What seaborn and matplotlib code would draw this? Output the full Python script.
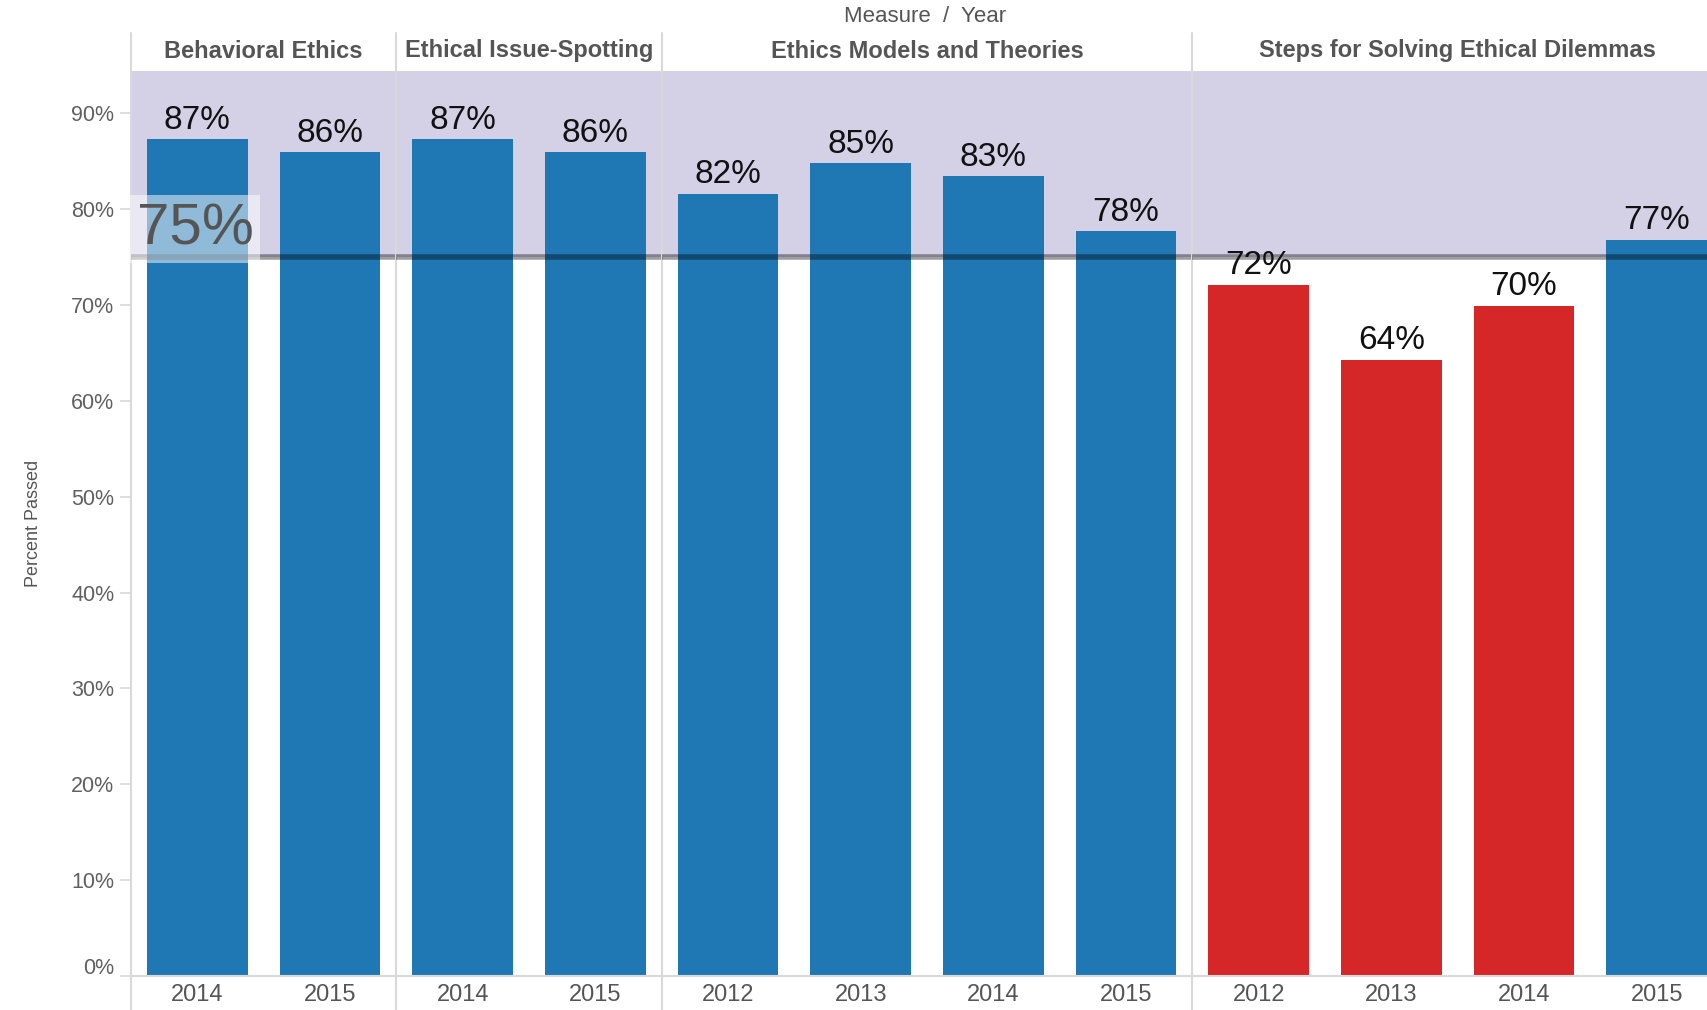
import matplotlib
matplotlib.use("Agg")
import matplotlib.pyplot as plt
import matplotlib.transforms as mtransforms
from matplotlib.lines import Line2D
import seaborn as sns
import pandas as pd

# ---- data ----
measures = ["Behavioral Ethics", "Ethical Issue-Spotting",
            "Ethics Models and Theories", "Steps for Solving Ethical Dilemmas"]
years_be = ["2014", "2015"]
pct_be = [87.3, 85.9]
years_eis = ["2014", "2015"]
pct_eis = [87.3, 85.9]
years_emt = ["2012", "2013", "2014", "2015"]
pct_emt = [81.6, 84.8, 83.4, 77.7]
years_ssed = ["2012", "2013", "2014", "2015"]
pct_ssed = [72.1, 64.3, 69.9, 76.8]
target = 75
y_ticks = [0, 10, 20, 30, 40, 50, 60, 70, 80, 90]
y_max = 94.4

panel_years = [years_be, years_eis, years_emt, years_ssed]
panel_pcts = [pct_be, pct_eis, pct_emt, pct_ssed]

rows = []
for m, ys, ps in zip(measures, panel_years, panel_pcts):
    for y, p in zip(ys, ps):
        rows.append({"Measure": m, "Year": y, "Pct": p,
                     "Status": "Met" if p >= target else "Below"})
df = pd.DataFrame(rows)

palette = {"Met": "#1f77b4", "Below": "#d62728"}
band_color = "#d4d1e7"
grid_gray = "#d9d9d9"
text_gray = "#555555"

sns.set_theme(style="white")
plt.rcParams["font.family"] = ["Liberation Sans", "DejaVu Sans"]

W, H = 1708, 1010
fig = plt.figure(figsize=(W / 100, H / 100), dpi=100)
left = 131 / W
right = 1723 / W
bottom = 1 - 976 / H
top = 1 - 71 / H
gs = fig.add_gridspec(1, 4, width_ratios=[len(y) for y in panel_years],
                      left=left, right=right, bottom=bottom, top=top, wspace=0)
axes = [fig.add_subplot(gs[0, i]) for i in range(4)]

for i, (ax, m, ys) in enumerate(zip(axes, measures, panel_years)):
    sub = df[df["Measure"] == m]
    ax.axhspan(target, y_max, color=band_color, zorder=0, lw=0)
    sns.barplot(data=sub, x="Year", y="Pct", hue="Status", order=ys,
                hue_order=["Met", "Below"], palette=palette, dodge=False,
                width=0.76, saturation=1, legend=False, ax=ax, zorder=2,
                linewidth=0)
    for c in ax.containers:
        ax.bar_label(c, labels=[f"{v:.0f}%" for v in c.datavalues],
                     padding=2.5, fontsize=24, color="#111111", zorder=6)
    ax.axhline(target, color="black", alpha=0.38, lw=4.0, zorder=4)
    ax.set_ylim(0, y_max)
    ax.set_xlim(-0.5, len(ys) - 0.5)
    ax.set_xlabel("")
    ax.set_ylabel("")
    for s in ["top", "right"]:
        ax.spines[s].set_visible(False)
    ax.spines["left"].set_color(grid_gray)
    ax.spines["left"].set_linewidth(1.5)
    ax.spines["bottom"].set_color(grid_gray)
    ax.spines["bottom"].set_linewidth(1.5)
    ax.spines["left"].set_zorder(1)
    ax.tick_params(axis="x", which="major", length=0, pad=6,
                   labelsize=17, labelcolor=text_gray)
    ax.set_xticks([k + 0.5 for k in range(len(ys) - 1)], minor=True)
    ax.tick_params(axis="x", which="minor", length=7, color=grid_gray,
                   width=1.5, direction="out")
    ax.set_yticks(y_ticks)
    if i == 0:
        ax.set_yticklabels([f"{t}%" for t in y_ticks])
        ax.tick_params(axis="y", length=8, color=grid_gray, width=1.2,
                       pad=4, labelsize=15.5, labelcolor="#606060", left=True)
        # lift the 0% label slightly above the axis line
        lbl0 = ax.get_yticklabels()[0]
        lbl0.set_transform(lbl0.get_transform() +
                           mtransforms.ScaledTranslation(0, 10 / 100,
                                                         fig.dpi_scale_trans))
        ax.set_ylabel("Percent Passed", fontsize=13, color=text_gray)
        ax.yaxis.set_label_coords(-0.335, 0.5)
        ax.annotate(f"{target}%", xy=(-0.5, target), xytext=(4, 9),
                    textcoords="offset points", ha="left", va="baseline",
                    fontsize=42, color="#555555", zorder=5,
                    bbox=dict(boxstyle="square,pad=0.12", facecolor="white",
                              alpha=0.5, edgecolor="none"))
    else:
        ax.set_yticklabels([])
        ax.tick_params(axis="y", length=0)

    pos = ax.get_position()
    cx = (pos.x0 + pos.x1) / 2
    fig.text(cx, 1 - 51 / H, m, ha="center", va="center", fontsize=17,
             fontweight="bold", color=text_gray)
    fig.add_artist(Line2D([pos.x0, pos.x0], [pos.y1, 1 - 33 / H],
                          color=grid_gray, lw=1.5))
    fig.add_artist(Line2D([pos.x0, pos.x0], [0, pos.y0],
                          color=grid_gray, lw=1.5))

fig.text(925 / W, 1 - 17 / H, "Measure  /  Year", ha="center", va="center",
         fontsize=16, color=text_gray)

fig.savefig("out.png", dpi=100)
